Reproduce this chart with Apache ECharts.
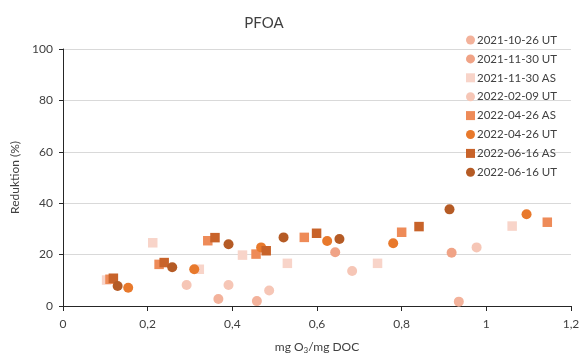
<!DOCTYPE html>
<html>
<head>
<meta charset="utf-8">
<script src="https://cdn.jsdelivr.net/npm/echarts@6/dist/echarts.min.js"></script>
<style>
  html, body { margin: 0; padding: 0; background: #fff; }
  #chart { width: 581px; height: 359px; }
</style>
</head>
<body>
<div id="chart"></div>
<script>
// Ozone dose (mg O3 / mg DOC) vs. PFOA reduction (%) per sampling date
const xTicks = [0, 0.2, 0.4, 0.6, 0.8, 1.0, 1.2];
const yTicks = [0, 20, 40, 60, 80, 100];

const s20211026UT_x = [0.367, 0.458, 0.935];
const s20211026UT_y = [2.7, 1.9, 1.7];

const s20211130UT_x = [0.643, 0.918];
const s20211130UT_y = [20.9, 20.7];

const s20211130AS_x = [0.103, 0.212, 0.322, 0.424, 0.530, 0.743, 1.061];
const s20211130AS_y = [10.1, 24.6, 14.3, 19.8, 16.6, 16.6, 31.1];

const s20220209UT_x = [0.292, 0.391, 0.487, 0.683, 0.977];
const s20220209UT_y = [8.2, 8.2, 6.0, 13.6, 22.8];

const s20220426AS_x = [0.111, 0.227, 0.342, 0.456, 0.570, 0.800, 1.144];
const s20220426AS_y = [10.4, 16.2, 25.4, 20.2, 26.7, 28.7, 32.6];

const s20220426UT_x = [0.154, 0.310, 0.468, 0.624, 0.780, 1.095];
const s20220426UT_y = [7.1, 14.3, 22.8, 25.3, 24.4, 35.7];

const s20220616AS_x = [0.119, 0.239, 0.359, 0.480, 0.599, 0.841];
const s20220616AS_y = [10.8, 16.9, 26.6, 21.5, 28.3, 30.9];

const s20220616UT_x = [0.129, 0.258, 0.391, 0.521, 0.653, 0.913];
const s20220616UT_y = [7.8, 15.1, 24.0, 26.7, 26.1, 37.6];

const seriesDefs = [
  { name: '2021-10-26 UT', x: s20211026UT_x, y: s20211026UT_y, shape: 'circle', color: '#f3b29b' },
  { name: '2021-11-30 UT', x: s20211130UT_x, y: s20211130UT_y, shape: 'circle', color: '#f0a386' },
  { name: '2021-11-30 AS', x: s20211130AS_x, y: s20211130AS_y, shape: 'rect',   color: '#f8d4c9' },
  { name: '2022-02-09 UT', x: s20220209UT_x, y: s20220209UT_y, shape: 'circle', color: '#f6c6b6' },
  { name: '2022-04-26 AS', x: s20220426AS_x, y: s20220426AS_y, shape: 'rect',   color: '#ee8b58' },
  { name: '2022-04-26 UT', x: s20220426UT_x, y: s20220426UT_y, shape: 'circle', color: '#e8792c' },
  { name: '2022-06-16 AS', x: s20220616AS_x, y: s20220616AS_y, shape: 'rect',   color: '#c8632a' },
  { name: '2022-06-16 UT', x: s20220616UT_x, y: s20220616UT_y, shape: 'circle', color: '#b55b25' }
];

const FONT = 'Lato, "Open Sans", sans-serif';
const chart = echarts.init(document.getElementById('chart'), null, { renderer: 'canvas' });

const fmt = v => String(v).replace('.', ',');

chart.setOption({
  animation: false,
  backgroundColor: '#ffffff',
  title: {
    text: 'PFOA',
    left: 259,
    top: 11,
    textAlign: 'center',
    textStyle: { fontFamily: FONT, fontSize: 15, fontWeight: 'normal', color: '#404040' }
  },
  legend: {
    orient: 'vertical',
    left: 461,
    top: 29,
    itemWidth: 9,
    itemHeight: 9,
    itemGap: 6.9,
    textStyle: { fontFamily: FONT, fontSize: 11.5, color: '#404040', padding: [0, 0, 0, -3] },
    data: seriesDefs.map(s => ({ name: s.name, icon: s.shape }))
  },
  grid: { left: 63, right: 10, top: 49, bottom: 53, outerBoundsMode: 'none', containLabel: false },
  xAxis: {
    type: 'value',
    min: xTicks[0],
    max: xTicks[xTicks.length - 1],
    interval: 0.2,
    name: '{a|mg O}{s|3}{a|/mg DOC}',
    nameLocation: 'middle',
    nameGap: 34,
    nameTextStyle: {
      rich: {
        a: { fontFamily: FONT, fontSize: 12, color: '#404040' },
        s: { fontFamily: FONT, fontSize: 8, color: '#404040', verticalAlign: 'bottom', padding: [6, 0, 0, 0] }
      }
    },
    axisLine: { lineStyle: { color: '#262626', width: 1 } },
    axisTick: { show: true, length: 5, lineStyle: { color: '#262626' } },
    axisLabel: {
      fontFamily: FONT, fontSize: 12, color: '#404040', margin: 12,
      formatter: v => fmt(Math.round(v * 10) / 10)
    },
    splitLine: { show: false }
  },
  yAxis: {
    type: 'value',
    min: yTicks[0],
    max: yTicks[yTicks.length - 1],
    interval: 20,
    name: 'Reduktion (%)',
    nameLocation: 'middle',
    nameGap: 40,
    nameRotate: 90,
    nameTextStyle: { fontFamily: FONT, fontSize: 12, color: '#404040' },
    axisLine: { show: true, lineStyle: { color: '#262626', width: 1 } },
    axisTick: { show: true, length: 4, lineStyle: { color: '#262626' } },
    axisLabel: { fontFamily: FONT, fontSize: 12, color: '#404040', margin: 10 },
    splitLine: { show: true, lineStyle: { color: '#d9d9d9', width: 1 } }
  },
  series: seriesDefs.map(s => ({
    name: s.name,
    type: 'scatter',
    symbol: s.shape,
    symbolSize: s.shape === 'rect' ? 9.5 : 10,
    itemStyle: { color: s.color, opacity: 1 },
    data: s.x.map((xv, i) => [xv, s.y[i]])
  }))
});
</script>
</body>
</html>
